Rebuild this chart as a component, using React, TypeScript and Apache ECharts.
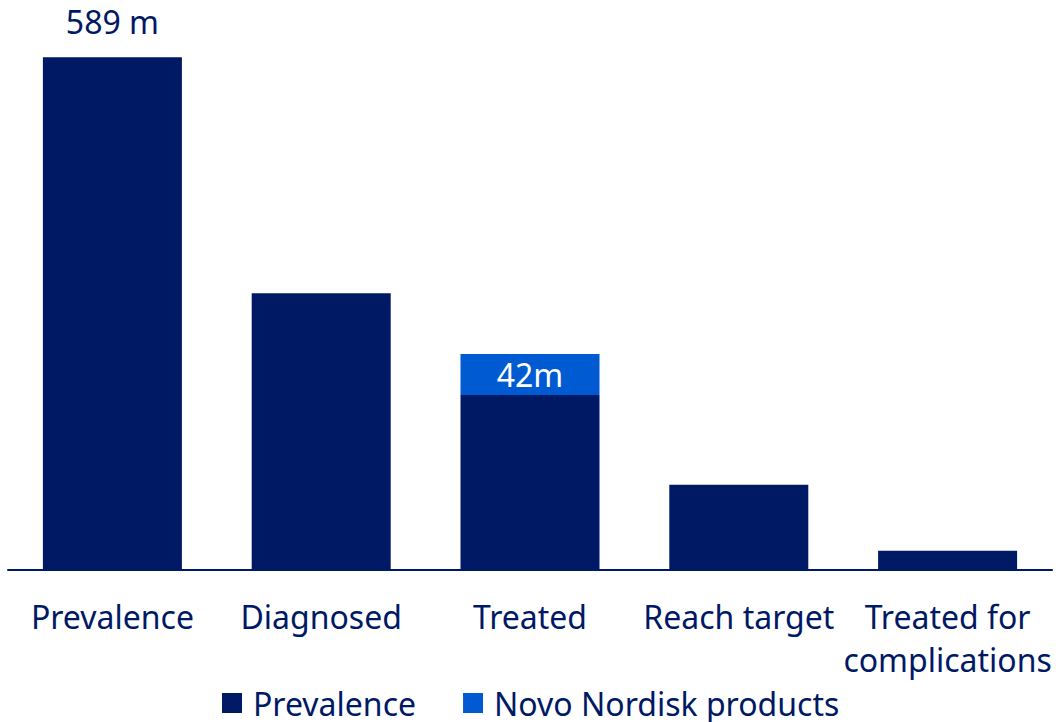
import React, { useEffect, useRef } from "react";
import * as echarts from "echarts";

const categories = ["Prevalence", "Diagnosed", "Treated", "Reach target", "Treated for complications"];
const prevalenceValues = [589, 318, 201, 98, 22];
const novoValues = [null, null, 47, null, null];
const prevalenceLabels = ["589 m", "", "", "", ""];
const novoLabels = ["", "", "42m", "", ""];
const seriesNames = ["Prevalence", "Novo Nordisk products"];

const NAVY = "#001965";
const BLUE = "#005AD2";
const FONT = "'Noto Sans', sans-serif";

export default function App() {
  const ref = useRef<HTMLDivElement>(null);
  useEffect(() => {
    if (!ref.current) return;
    const chart = echarts.init(ref.current, null, { renderer: "svg" });
    chart.setOption({
      animation: false,
      backgroundColor: "#ffffff",
      textStyle: { fontFamily: FONT },
      grid: { left: 8, right: 4, top: 47.7, bottom: 152, containLabel: false },
      legend: {
        data: seriesNames,
        left: 222,
        top: 686,
        padding: [0, 0, 0, 0],
        icon: "rect",
        itemWidth: 20,
        itemHeight: 20,
        itemGap: 47,
        textStyle: { fontSize: 32, lineHeight: 34, color: NAVY, fontFamily: FONT, padding: [0, 0, 0, 6] },
      },
      xAxis: {
        type: "category",
        data: categories,
        axisLine: { show: true, lineStyle: { color: NAVY, width: 2 } },
        axisTick: { show: false },
        axisLabel: {
          interval: 0,
          margin: 25,
          fontSize: 32,
          lineHeight: 43,
          color: NAVY,
          fontFamily: FONT,
          formatter: (v: string) => v.replace("for ", "for\n"),
        },
      },
      yAxis: {
        type: "value",
        min: 0,
        max: 600,
        show: false,
        splitLine: { show: false },
      },
      series: [
        {
          name: seriesNames[0],
          type: "bar",
          stack: "total",
          barWidth: 139,
          data: prevalenceValues,
          itemStyle: { color: NAVY },
          label: {
            show: true,
            position: "top",
            distance: 20,
            fontSize: 32,
            color: NAVY,
            fontFamily: FONT,
            formatter: (p: any) => prevalenceLabels[p.dataIndex],
          },
        },
        {
          name: seriesNames[1],
          type: "bar",
          stack: "total",
          barWidth: 139,
          data: novoValues,
          itemStyle: { color: BLUE },
          label: {
            show: true,
            position: "inside",
            fontSize: 32,
            color: "#ffffff",
            fontFamily: FONT,
            formatter: (p: any) => novoLabels[p.dataIndex],
          },
        },
      ],
    });
    return () => chart.dispose();
  }, []);
  return (
    <div
      ref={ref}
      style={{ position: "absolute", left: 0, top: 0, width: 1056, height: 722 }}
    />
  );
}
